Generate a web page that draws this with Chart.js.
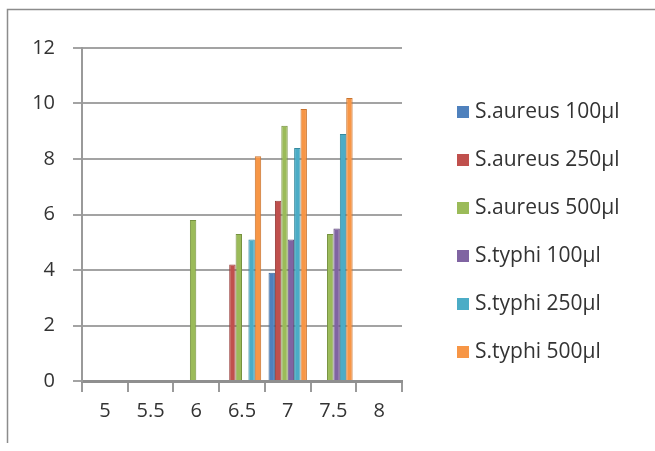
<!DOCTYPE html>
<html>
<head>
<meta charset="utf-8">
<script src="https://cdn.jsdelivr.net/npm/chart.js@4/dist/chart.umd.min.js"></script>
<style>
  html, body { margin: 0; padding: 0; background: #ffffff; }
  #wrap { width: 655px; height: 451px; position: relative; }
</style>
</head>
<body>
<div id="wrap"><canvas id="c" width="655" height="451"></canvas></div>
<script>
// pH values along the x axis
const categories = ['5', '5.5', '6', '6.5', '7', '7.5', '8'];

// zone of inhibition per organism and extract volume
const aureus100 = [0, 0, 0, 0, 3.9, 0, 0];
const aureus250 = [0, 0, 0, 4.2, 6.5, 0, 0];
const aureus500 = [0, 0, 5.8, 5.3, 9.2, 5.3, 0];
const typhi100  = [0, 0, 0, 0, 5.1, 5.5, 0];
const typhi250  = [0, 0, 0, 5.1, 8.4, 8.9, 0];
const typhi500  = [0, 0, 0, 8.1, 9.8, 10.2, 0];

const seriesNames = ['S.aureus 100µl', 'S.aureus 250µl', 'S.aureus 500µl',
                     'S.typhi 100µl', 'S.typhi 250µl', 'S.typhi 500µl'];
const yTicks = [0, 2, 4, 6, 8, 10, 12];

const fills   = ['#4F81BD', '#C0504D', '#9BBB59', '#8064A2', '#4BACC6', '#F79646'];
const borders = ['#3A6596', '#963D3A', '#76923F', '#5F4A7C', '#358A9F', '#C8742F'];

const FONT = '"Open Sans", sans-serif';
const TEXT = '#333333';

// outer frame of the chart box
const framePlugin = {
  id: 'frame',
  beforeDraw(chart) {
    const ctx = chart.ctx;
    ctx.save();
    ctx.fillStyle = '#ffffff';
    ctx.fillRect(0, 0, chart.width, chart.height);
    ctx.strokeStyle = '#8c8c8c';
    ctx.lineWidth = 1.5;
    ctx.beginPath();
    ctx.moveTo(7.5, 443);
    ctx.lineTo(7.5, 9.5);
    ctx.lineTo(chart.width, 9.5);
    ctx.stroke();
    ctx.restore();
  }
};

// legend listed down the right side
const sideLegend = {
  id: 'sideLegend',
  afterDraw(chart) {
    const ctx = chart.ctx;
    ctx.save();
    ctx.font = '21px ' + FONT;
    ctx.textBaseline = 'middle';
    ctx.textAlign = 'left';
    chart.data.datasets.forEach((ds, i) => {
      const y = 112 + i * 48;
      ctx.fillStyle = ds.backgroundColor;
      ctx.fillRect(457, y - 6, 12, 12);
      ctx.fillStyle = TEXT;
      ctx.fillText(ds.label, 475, y);
    });
    ctx.restore();
  }
};

const seriesValues = [aureus100, aureus250, aureus500, typhi100, typhi250, typhi500];

new Chart(document.getElementById('c'), {
  type: 'bar',
  data: {
    labels: categories,
    datasets: seriesValues.map((vals, i) => ({
      label: seriesNames[i],
      data: vals,
      backgroundColor: fills[i],
      borderColor: borders[i],
      borderWidth: { left: 1, right: 1, top: 1, bottom: 0 },
      barPercentage: 1.0,
      categoryPercentage: 0.84
    }))
  },
  options: {
    responsive: false,
    animation: false,
    devicePixelRatio: 1,
    layout: { padding: { left: 0, top: 48, right: 253, bottom: 0 } },
    plugins: {
      legend: { display: false },
      tooltip: { enabled: false }
    },
    scales: {
      x: {
        afterFit(scale) { scale.height = 70; },
        grid: {
          drawOnChartArea: false,
          drawTicks: true,
          tickLength: 11,
          color: '#9a9a9a',
          lineWidth: 2
        },
        border: { display: true, color: '#8f8f8f', width: 3 },
        ticks: {
          color: TEXT,
          font: { family: FONT, size: 20 },
          padding: 7,
          maxRotation: 0
        }
      },
      y: {
        min: 0,
        max: 12,
        afterFit(scale) { scale.width = 82; },
        afterBuildTicks(scale) { scale.ticks = yTicks.map(v => ({ value: v })); },
        grid: {
          color: '#a3a3a3',
          lineWidth: 2,
          tickLength: 9,
          drawTicks: true
        },
        border: { display: true, color: '#9a9a9a', width: 2 },
        ticks: {
          color: TEXT,
          font: { family: FONT, size: 20 },
          padding: 18
        }
      }
    }
  },
  plugins: [framePlugin, sideLegend]
});
</script>
</body>
</html>
